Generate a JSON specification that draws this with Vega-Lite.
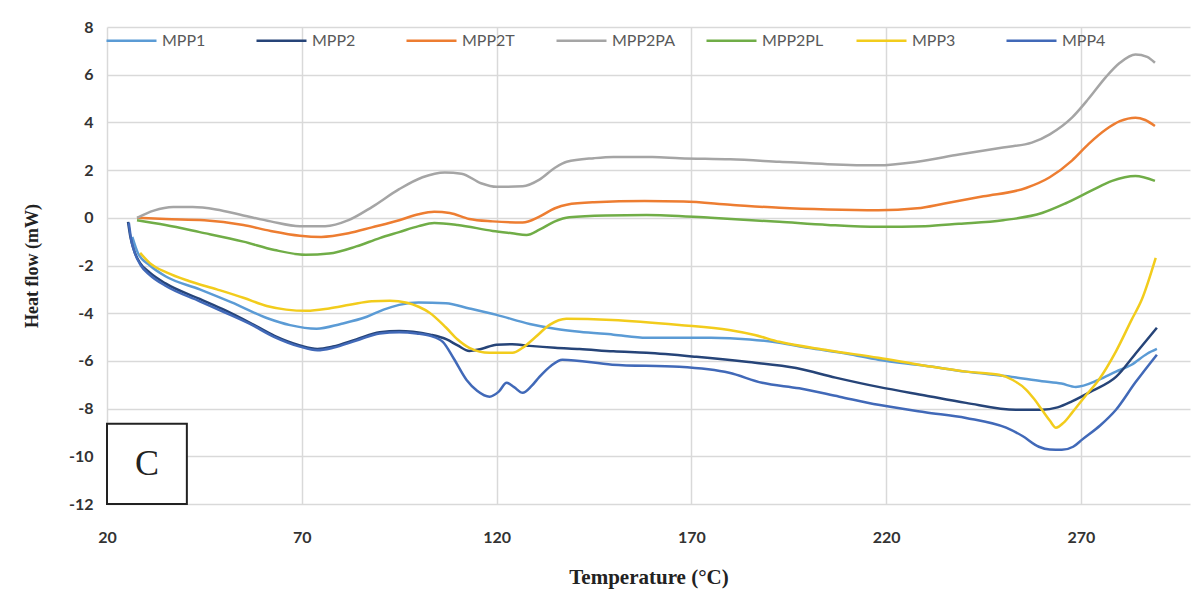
{
  "$schema": "https://vega.github.io/schema/vega-lite/v6.json",
  "width": 1083,
  "height": 477,
  "autosize": {"type": "none"},
  "padding": {"left": 107, "top": 27, "right": 5, "bottom": 91},
  "background": "white",
  "config": {
    "view": {"stroke": null},
    "axis": {"gridColor": "#d9d9d9", "gridWidth": 1.5, "domain": false, "ticks": false}
  },
  "datasets": {
    "box": [{"x1": 20, "x2": 40.5, "y1": -12, "y2": -8.64, "label": "C", "xm": 30.25, "ym": -10.32}],
    "curves": [
      {"s":"MPP1","t":26.5,"h":-0.8},{"s":"MPP1","t":28,"h":-1.5},{"s":"MPP1","t":31,"h":-2.0},{"s":"MPP1","t":35,"h":-2.45},{"s":"MPP1","t":43.8,"h":-3.0},{"s":"MPP1","t":52,"h":-3.55},{"s":"MPP1","t":61,"h":-4.2},{"s":"MPP1","t":67,"h":-4.5},{"s":"MPP1","t":73.8,"h":-4.65},{"s":"MPP1","t":80,"h":-4.45},{"s":"MPP1","t":86.7,"h":-4.15},{"s":"MPP1","t":91,"h":-3.85},{"s":"MPP1","t":95,"h":-3.65},{"s":"MPP1","t":100,"h":-3.55},{"s":"MPP1","t":107,"h":-3.58},{"s":"MPP1","t":113,"h":-3.8},{"s":"MPP1","t":120,"h":-4.07},{"s":"MPP1","t":128.5,"h":-4.45},{"s":"MPP1","t":135,"h":-4.65},{"s":"MPP1","t":141.3,"h":-4.78},{"s":"MPP1","t":150,"h":-4.9},{"s":"MPP1","t":158.5,"h":-5.03},{"s":"MPP1","t":175,"h":-5.03},{"s":"MPP1","t":185,"h":-5.1},{"s":"MPP1","t":192.6,"h":-5.24},{"s":"MPP1","t":200,"h":-5.45},{"s":"MPP1","t":210,"h":-5.7},{"s":"MPP1","t":218,"h":-5.95},{"s":"MPP1","t":230,"h":-6.2},{"s":"MPP1","t":240.5,"h":-6.45},{"s":"MPP1","t":252.3,"h":-6.67},{"s":"MPP1","t":260,"h":-6.85},{"s":"MPP1","t":265,"h":-6.95},{"s":"MPP1","t":268.7,"h":-7.09},{"s":"MPP1","t":274.6,"h":-6.79},{"s":"MPP1","t":279,"h":-6.45},{"s":"MPP1","t":283,"h":-6.16},{"s":"MPP1","t":287,"h":-5.7},{"s":"MPP1","t":289.5,"h":-5.5},
      {"s":"MPP2","t":25.4,"h":-0.17},{"s":"MPP2","t":26,"h":-0.8},{"s":"MPP2","t":27,"h":-1.4},{"s":"MPP2","t":28.5,"h":-1.9},{"s":"MPP2","t":31,"h":-2.3},{"s":"MPP2","t":35,"h":-2.75},{"s":"MPP2","t":43.8,"h":-3.4},{"s":"MPP2","t":50,"h":-3.85},{"s":"MPP2","t":56.7,"h":-4.4},{"s":"MPP2","t":63,"h":-4.95},{"s":"MPP2","t":69.5,"h":-5.35},{"s":"MPP2","t":74,"h":-5.5},{"s":"MPP2","t":78,"h":-5.4},{"s":"MPP2","t":84,"h":-5.1},{"s":"MPP2","t":90,"h":-4.8},{"s":"MPP2","t":95,"h":-4.75},{"s":"MPP2","t":98.5,"h":-4.78},{"s":"MPP2","t":103,"h":-4.9},{"s":"MPP2","t":107.2,"h":-5.1},{"s":"MPP2","t":110,"h":-5.35},{"s":"MPP2","t":113,"h":-5.58},{"s":"MPP2","t":116,"h":-5.5},{"s":"MPP2","t":120,"h":-5.32},{"s":"MPP2","t":124,"h":-5.3},{"s":"MPP2","t":128.5,"h":-5.37},{"s":"MPP2","t":135,"h":-5.45},{"s":"MPP2","t":141.3,"h":-5.5},{"s":"MPP2","t":150,"h":-5.6},{"s":"MPP2","t":158.5,"h":-5.66},{"s":"MPP2","t":171.3,"h":-5.83},{"s":"MPP2","t":184.1,"h":-6.04},{"s":"MPP2","t":196.9,"h":-6.3},{"s":"MPP2","t":207,"h":-6.7},{"s":"MPP2","t":218,"h":-7.09},{"s":"MPP2","t":230,"h":-7.45},{"s":"MPP2","t":240.5,"h":-7.76},{"s":"MPP2","t":253.3,"h":-8.05},{"s":"MPP2","t":260,"h":-8.05},{"s":"MPP2","t":264,"h":-7.95},{"s":"MPP2","t":267.7,"h":-7.7},{"s":"MPP2","t":273,"h":-7.25},{"s":"MPP2","t":279,"h":-6.67},{"s":"MPP2","t":284,"h":-5.7},{"s":"MPP2","t":289.5,"h":-4.61},
      {"s":"MPP2T","t":27.7,"h":0},{"s":"MPP2T","t":35,"h":-0.05},{"s":"MPP2T","t":45,"h":-0.1},{"s":"MPP2T","t":55,"h":-0.3},{"s":"MPP2T","t":62,"h":-0.55},{"s":"MPP2T","t":69.5,"h":-0.75},{"s":"MPP2T","t":75,"h":-0.8},{"s":"MPP2T","t":82,"h":-0.65},{"s":"MPP2T","t":88,"h":-0.4},{"s":"MPP2T","t":95,"h":-0.1},{"s":"MPP2T","t":100,"h":0.15},{"s":"MPP2T","t":104,"h":0.25},{"s":"MPP2T","t":108,"h":0.2},{"s":"MPP2T","t":113,"h":-0.05},{"s":"MPP2T","t":119,"h":-0.15},{"s":"MPP2T","t":126.7,"h":-0.2},{"s":"MPP2T","t":131,"h":0.05},{"s":"MPP2T","t":135,"h":0.4},{"s":"MPP2T","t":138,"h":0.55},{"s":"MPP2T","t":145,"h":0.65},{"s":"MPP2T","t":158,"h":0.7},{"s":"MPP2T","t":168,"h":0.68},{"s":"MPP2T","t":180,"h":0.55},{"s":"MPP2T","t":192.6,"h":0.42},{"s":"MPP2T","t":205,"h":0.35},{"s":"MPP2T","t":218,"h":0.32},{"s":"MPP2T","t":228,"h":0.4},{"s":"MPP2T","t":235,"h":0.6},{"s":"MPP2T","t":245,"h":0.9},{"s":"MPP2T","t":255.9,"h":1.25},{"s":"MPP2T","t":262,"h":1.7},{"s":"MPP2T","t":267.7,"h":2.4},{"s":"MPP2T","t":272,"h":3.1},{"s":"MPP2T","t":276.4,"h":3.7},{"s":"MPP2T","t":280,"h":4.05},{"s":"MPP2T","t":284,"h":4.2},{"s":"MPP2T","t":286.5,"h":4.1},{"s":"MPP2T","t":289,"h":3.85},
      {"s":"MPP2PA","t":27.7,"h":0},{"s":"MPP2PA","t":32,"h":0.3},{"s":"MPP2PA","t":37,"h":0.45},{"s":"MPP2PA","t":42,"h":0.45},{"s":"MPP2PA","t":48,"h":0.35},{"s":"MPP2PA","t":55,"h":0.1},{"s":"MPP2PA","t":62,"h":-0.15},{"s":"MPP2PA","t":69.5,"h":-0.35},{"s":"MPP2PA","t":76,"h":-0.35},{"s":"MPP2PA","t":82,"h":-0.1},{"s":"MPP2PA","t":88,"h":0.45},{"s":"MPP2PA","t":95,"h":1.2},{"s":"MPP2PA","t":101,"h":1.7},{"s":"MPP2PA","t":106.7,"h":1.9},{"s":"MPP2PA","t":111,"h":1.85},{"s":"MPP2PA","t":116,"h":1.45},{"s":"MPP2PA","t":120,"h":1.3},{"s":"MPP2PA","t":126.7,"h":1.32},{"s":"MPP2PA","t":131,"h":1.6},{"s":"MPP2PA","t":135,"h":2.1},{"s":"MPP2PA","t":138,"h":2.35},{"s":"MPP2PA","t":145,"h":2.5},{"s":"MPP2PA","t":150,"h":2.55},{"s":"MPP2PA","t":160,"h":2.55},{"s":"MPP2PA","t":167,"h":2.5},{"s":"MPP2PA","t":180,"h":2.45},{"s":"MPP2PA","t":192.6,"h":2.35},{"s":"MPP2PA","t":205,"h":2.25},{"s":"MPP2PA","t":218,"h":2.2},{"s":"MPP2PA","t":228,"h":2.35},{"s":"MPP2PA","t":238.7,"h":2.65},{"s":"MPP2PA","t":250,"h":2.95},{"s":"MPP2PA","t":257.4,"h":3.15},{"s":"MPP2PA","t":262,"h":3.5},{"s":"MPP2PA","t":267.7,"h":4.2},{"s":"MPP2PA","t":272,"h":5.0},{"s":"MPP2PA","t":276.4,"h":5.9},{"s":"MPP2PA","t":280,"h":6.5},{"s":"MPP2PA","t":284,"h":6.85},{"s":"MPP2PA","t":287,"h":6.75},{"s":"MPP2PA","t":289,"h":6.5},
      {"s":"MPP2PL","t":27.7,"h":-0.1},{"s":"MPP2PL","t":35,"h":-0.3},{"s":"MPP2PL","t":43.8,"h":-0.6},{"s":"MPP2PL","t":55,"h":-1.0},{"s":"MPP2PL","t":63,"h":-1.35},{"s":"MPP2PL","t":71,"h":-1.55},{"s":"MPP2PL","t":77,"h":-1.5},{"s":"MPP2PL","t":84,"h":-1.2},{"s":"MPP2PL","t":90,"h":-0.85},{"s":"MPP2PL","t":95,"h":-0.6},{"s":"MPP2PL","t":100,"h":-0.35},{"s":"MPP2PL","t":104,"h":-0.22},{"s":"MPP2PL","t":110,"h":-0.3},{"s":"MPP2PL","t":119,"h":-0.55},{"s":"MPP2PL","t":124,"h":-0.65},{"s":"MPP2PL","t":127.7,"h":-0.72},{"s":"MPP2PL","t":131,"h":-0.5},{"s":"MPP2PL","t":135,"h":-0.15},{"s":"MPP2PL","t":138.7,"h":0.02},{"s":"MPP2PL","t":148,"h":0.1},{"s":"MPP2PL","t":158.5,"h":0.12},{"s":"MPP2PL","t":175,"h":0.0},{"s":"MPP2PL","t":192.6,"h":-0.17},{"s":"MPP2PL","t":205,"h":-0.3},{"s":"MPP2PL","t":218,"h":-0.38},{"s":"MPP2PL","t":230,"h":-0.35},{"s":"MPP2PL","t":238.7,"h":-0.25},{"s":"MPP2PL","t":250,"h":-0.1},{"s":"MPP2PL","t":260,"h":0.2},{"s":"MPP2PL","t":266,"h":0.6},{"s":"MPP2PL","t":272.8,"h":1.15},{"s":"MPP2PL","t":278,"h":1.55},{"s":"MPP2PL","t":284,"h":1.75},{"s":"MPP2PL","t":289,"h":1.55},
      {"s":"MPP3","t":28.5,"h":-1.47},{"s":"MPP3","t":31,"h":-1.9},{"s":"MPP3","t":35.4,"h":-2.3},{"s":"MPP3","t":41,"h":-2.65},{"s":"MPP3","t":48.2,"h":-3.0},{"s":"MPP3","t":55,"h":-3.35},{"s":"MPP3","t":61,"h":-3.7},{"s":"MPP3","t":66,"h":-3.85},{"s":"MPP3","t":71.3,"h":-3.9},{"s":"MPP3","t":77,"h":-3.8},{"s":"MPP3","t":82.3,"h":-3.65},{"s":"MPP3","t":88,"h":-3.5},{"s":"MPP3","t":92.6,"h":-3.48},{"s":"MPP3","t":97,"h":-3.56},{"s":"MPP3","t":100,"h":-3.73},{"s":"MPP3","t":102.8,"h":-3.98},{"s":"MPP3","t":107,"h":-4.6},{"s":"MPP3","t":110,"h":-5.1},{"s":"MPP3","t":113,"h":-5.45},{"s":"MPP3","t":118.2,"h":-5.66},{"s":"MPP3","t":124.1,"h":-5.66},{"s":"MPP3","t":126.7,"h":-5.45},{"s":"MPP3","t":130,"h":-5.0},{"s":"MPP3","t":133.6,"h":-4.49},{"s":"MPP3","t":137.9,"h":-4.23},{"s":"MPP3","t":149.7,"h":-4.28},{"s":"MPP3","t":166.9,"h":-4.49},{"s":"MPP3","t":179.7,"h":-4.7},{"s":"MPP3","t":186,"h":-4.9},{"s":"MPP3","t":192.6,"h":-5.2},{"s":"MPP3","t":205,"h":-5.55},{"s":"MPP3","t":218,"h":-5.87},{"s":"MPP3","t":230,"h":-6.2},{"s":"MPP3","t":240.5,"h":-6.45},{"s":"MPP3","t":249,"h":-6.58},{"s":"MPP3","t":252.5,"h":-6.8},{"s":"MPP3","t":255.9,"h":-7.2},{"s":"MPP3","t":258,"h":-7.6},{"s":"MPP3","t":260,"h":-8.05},{"s":"MPP3","t":262,"h":-8.5},{"s":"MPP3","t":263.6,"h":-8.8},{"s":"MPP3","t":265.5,"h":-8.6},{"s":"MPP3","t":267.7,"h":-8.18},{"s":"MPP3","t":271,"h":-7.5},{"s":"MPP3","t":274.6,"h":-6.79},{"s":"MPP3","t":279,"h":-5.6},{"s":"MPP3","t":283,"h":-4.28},{"s":"MPP3","t":285.6,"h":-3.44},{"s":"MPP3","t":289.2,"h":-1.68},
      {"s":"MPP4","t":25.6,"h":-0.2},{"s":"MPP4","t":26.2,"h":-0.9},{"s":"MPP4","t":27.2,"h":-1.5},{"s":"MPP4","t":28.7,"h":-2.0},{"s":"MPP4","t":31,"h":-2.4},{"s":"MPP4","t":35,"h":-2.85},{"s":"MPP4","t":43.8,"h":-3.5},{"s":"MPP4","t":50,"h":-3.95},{"s":"MPP4","t":56.7,"h":-4.45},{"s":"MPP4","t":63,"h":-5.0},{"s":"MPP4","t":69.5,"h":-5.4},{"s":"MPP4","t":74,"h":-5.55},{"s":"MPP4","t":78,"h":-5.45},{"s":"MPP4","t":84,"h":-5.15},{"s":"MPP4","t":90,"h":-4.85},{"s":"MPP4","t":95,"h":-4.8},{"s":"MPP4","t":99.5,"h":-4.85},{"s":"MPP4","t":103,"h":-4.95},{"s":"MPP4","t":106.2,"h":-5.2},{"s":"MPP4","t":109,"h":-5.9},{"s":"MPP4","t":112.3,"h":-6.8},{"s":"MPP4","t":115,"h":-7.25},{"s":"MPP4","t":118.2,"h":-7.5},{"s":"MPP4","t":120.5,"h":-7.3},{"s":"MPP4","t":122.6,"h":-6.92},{"s":"MPP4","t":124.5,"h":-7.1},{"s":"MPP4","t":126.7,"h":-7.34},{"s":"MPP4","t":129,"h":-7.05},{"s":"MPP4","t":131,"h":-6.67},{"s":"MPP4","t":134,"h":-6.2},{"s":"MPP4","t":136.9,"h":-5.95},{"s":"MPP4","t":149.7,"h":-6.16},{"s":"MPP4","t":166.9,"h":-6.25},{"s":"MPP4","t":179.7,"h":-6.5},{"s":"MPP4","t":188.2,"h":-6.92},{"s":"MPP4","t":197.7,"h":-7.15},{"s":"MPP4","t":208,"h":-7.5},{"s":"MPP4","t":218,"h":-7.84},{"s":"MPP4","t":230,"h":-8.15},{"s":"MPP4","t":240.5,"h":-8.39},{"s":"MPP4","t":250.8,"h":-8.8},{"s":"MPP4","t":255,"h":-9.15},{"s":"MPP4","t":259.2,"h":-9.6},{"s":"MPP4","t":262,"h":-9.72},{"s":"MPP4","t":265.1,"h":-9.73},{"s":"MPP4","t":268,"h":-9.6},{"s":"MPP4","t":270.3,"h":-9.3},{"s":"MPP4","t":275,"h":-8.7},{"s":"MPP4","t":279,"h":-8.05},{"s":"MPP4","t":284,"h":-6.9},{"s":"MPP4","t":289.5,"h":-5.74}
    ]
  },
  "layer": [
    {
      "data": {"name": "curves"},
      "mark": {"type": "line", "interpolate": "monotone", "strokeWidth": 2.5},
      "encoding": {
        "x": {
          "field": "t", "type": "quantitative",
          "scale": {"domain": [20, 298], "nice": false, "zero": false},
          "axis": {
            "title": "Temperature (°C)", "values": [20, 70, 120, 170, 220, 270],
            "labelFlush": false,
            "labelFont": "Lato", "labelFontWeight": "bold", "labelFontSize": 16, "labelColor": "#333333",
            "labelPadding": 25,
            "titleFont": "Liberation Serif", "titleFontSize": 21, "titleFontWeight": "bold", "titleColor": "#222222",
            "titlePadding": 21
          }
        },
        "y": {
          "field": "h", "type": "quantitative",
          "scale": {"domain": [-12, 8], "nice": false},
          "axis": {
            "title": "Heat flow (mW)", "values": [-12, -10, -8, -6, -4, -2, 0, 2, 4, 6, 8],
            "labelExpr": "'' + datum.value",
            "labelFlush": false,
            "labelFont": "Lato", "labelFontWeight": "bold", "labelFontSize": 16, "labelColor": "#333333",
            "labelPadding": 14,
            "titleFont": "Liberation Serif", "titleFontSize": 18, "titleFontWeight": "bold", "titleColor": "#222222",
            "titlePadding": 27
          }
        },
        "color": {
          "field": "s", "type": "nominal",
          "scale": {
            "domain": ["MPP1", "MPP2", "MPP2T", "MPP2PA", "MPP2PL", "MPP3", "MPP4"],
            "range": ["#5B9BD5", "#264478", "#ED7D31", "#A5A5A5", "#70AD47", "#F2CC1C", "#4169B8"]
          },
          "legend": {
            "title": null, "orient": "none", "legendX": -2, "legendY": -13,
            "direction": "horizontal", "columns": 7, "gridAlign": "all",
            "symbolType": "stroke", "symbolSize": 2500, "symbolStrokeWidth": 2.5,
            "labelFont": "Lato", "labelFontSize": 16, "labelColor": "#595959", "labelOffset": 4,
            "columnPadding": 26, "padding": 0
          }
        }
      }
    },
    {
      "data": {"name": "box"},
      "mark": {"type": "rect", "fill": "white", "stroke": "#222222", "strokeWidth": 2},
      "encoding": {
        "x": {"field": "x1", "type": "quantitative"},
        "x2": {"field": "x2"},
        "y": {"field": "y1", "type": "quantitative"},
        "y2": {"field": "y2"}
      }
    },
    {
      "data": {"name": "box"},
      "mark": {"type": "text", "font": "Liberation Serif", "fontSize": 36, "color": "#222222", "baseline": "middle", "align": "center"},
      "encoding": {
        "x": {"field": "xm", "type": "quantitative"},
        "y": {"field": "ym", "type": "quantitative"},
        "text": {"field": "label"}
      }
    }
  ]
}
